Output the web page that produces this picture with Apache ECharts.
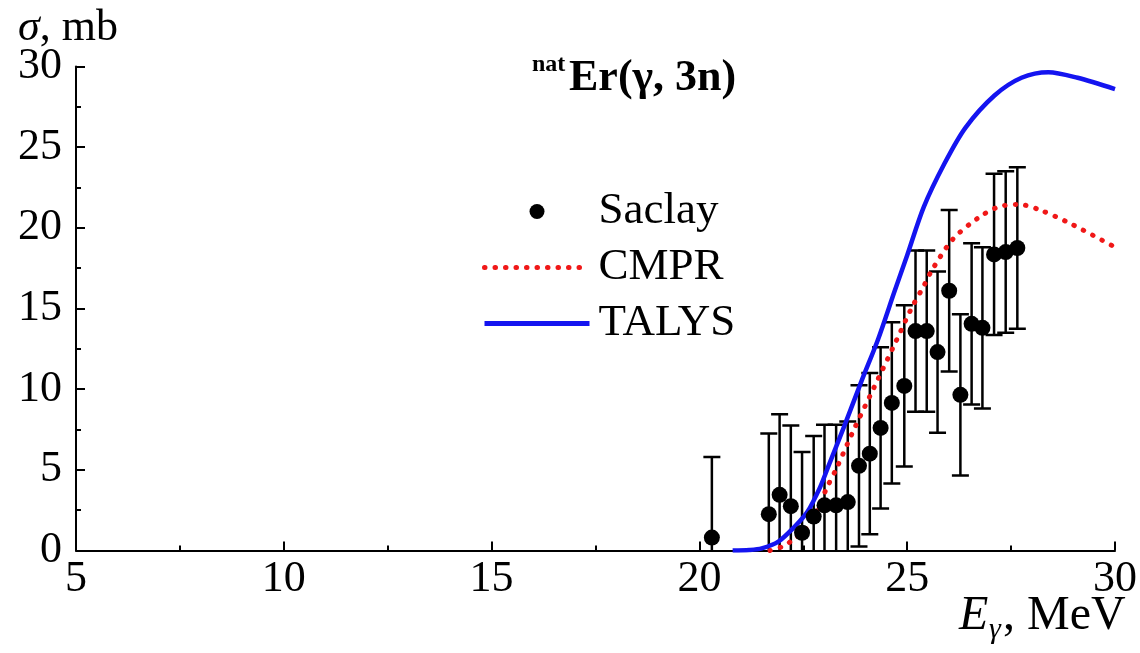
<!DOCTYPE html>
<html><head><meta charset="utf-8">
<script src="https://cdn.jsdelivr.net/npm/echarts@6/dist/echarts.min.js"></script>
<style>html,body{margin:0;padding:0;background:#fff}#c{width:1140px;height:653px}</style>
</head><body><div id="c"></div>
<script>
// Saclay experimental points: energy (MeV), cross section (mb), error (mb)
const saclayE =     [20.3, 21.67, 21.93, 22.2, 22.47, 22.75, 23.01, 23.29, 23.57, 23.84, 24.1, 24.36, 24.63, 24.93, 25.2, 25.47, 25.73, 26.01, 26.28, 26.55, 26.81, 27.09, 27.37, 27.65];
const saclaySigma = [0.8,  2.25,  3.45,  2.75, 1.1,   2.1,   2.8,   2.8,   3.0,   5.25,  6.0,  7.6,   9.15,  10.2,  13.6, 13.6,  12.3,  16.1,  9.65,  14.05, 13.8,  18.35, 18.5,  18.75];
const saclayErr =   [5, 5, 5, 5, 5, 5, 5, 5, 5, 5, 5, 5, 5, 5, 5, 5, 5, 5, 5, 5, 5, 5, 5, 5];
// CMPR curve
const cmprE =     [21.7, 22.0, 22.3, 22.6, 22.85, 23.05, 23.3, 23.7, 24.2, 24.7, 25.1, 25.4, 25.6, 26.1, 26.7, 27.2, 27.7, 28.2, 28.9, 30.0];
const cmprSigma = [0,    0.25, 0.75, 1.45, 2.6,   3.8,   5.1,  7.4,  10.1, 12.8, 15.0, 16.4, 17.4, 19.3, 20.6, 21.3, 21.45, 21.1, 20.3, 18.8];
// TALYS curve
const talysE =     [20.8, 21.2, 21.5, 21.9, 22.3, 22.6, 22.9, 23.1, 23.5, 23.9, 24.3, 24.7, 25.0, 25.4, 25.9, 26.4, 27.1, 27.75, 28.4, 29.1, 30.0];
const talysSigma = [0,    0.03, 0.13, 0.55, 1.5,  2.4,  3.9,  5.2,  7.8,  10.5, 13.1, 16.1, 18.3, 21.3, 24.0, 26.2, 28.2, 29.3, 29.65, 29.3, 28.6];

const FONT = '"Liberation Serif", "Times New Roman", serif';
const RED = '#f01818', BLUE = '#1414f0';
const chart = echarts.init(document.getElementById('c'), null, {renderer: 'canvas'});

const axisCommon = {
  type: 'value',
  axisLine: {show: true, lineStyle: {color: '#000', width: 2}},
  axisTick: {show: true, inside: true, length: 9, lineStyle: {color: '#000', width: 2}},
  minorTick: {show: true, splitNumber: 2, length: 5, lineStyle: {color: '#000', width: 2}},
  splitLine: {show: false},
  axisLabel: {fontSize: 44, fontFamily: FONT, color: '#000'}
};

chart.setOption({
  animation: false,
  backgroundColor: '#fff',
  grid: {left: 76, right: 23, top: 66.5, bottom: 102.5},
  xAxis: Object.assign({}, axisCommon, {min: 5, max: 30, interval: 5,
    axisLabel: Object.assign({}, axisCommon.axisLabel, {margin: 7})}),
  yAxis: Object.assign({}, axisCommon, {min: 0, max: 30, interval: 5,
    axisLabel: Object.assign({}, axisCommon.axisLabel, {margin: 14})}),
  legend: {
    data: [
      {name: 'Saclay', itemStyle: {color: '#000', opacity: 1}},
      {name: 'CMPR', itemStyle: {opacity: 0}, lineStyle: {color: RED, width: 5, type: [0.5, 10], cap: 'round'}},
      {name: 'TALYS', itemStyle: {opacity: 0}, lineStyle: {color: BLUE, width: 5}}
    ],
    orient: 'vertical', left: 482, top: 189, padding: 0,
    itemWidth: 105, itemHeight: 15, itemGap: 11,
    textStyle: {fontSize: 45, fontFamily: FONT, color: '#000', padding: [0, 0, 0, 4]}
  },
  graphic: [
    {type: 'text', left: 18, top: 6, style: {text: '{i|σ}, mb', font: '44px ' + FONT, fill: '#000',
      rich: {i: {fontStyle: 'italic', fontSize: 44, fontFamily: FONT}}}},
    {type: 'text', left: 532, top: 53, style: {text: 'nat', font: 'bold 24px ' + FONT, fill: '#000'}},
    {type: 'text', left: 569, top: 57, style: {text: 'Er(γ, 3n)', font: 'bold 44px ' + FONT, fill: '#000'}},
    {type: 'text', left: 959, top: 592, style: {text: 'E', font: 'italic 48px ' + FONT, fill: '#000'}},
    {type: 'text', left: 989, top: 615, style: {text: 'γ', font: 'italic 30px ' + FONT, fill: '#000'}},
    {type: 'text', left: 1003, top: 592, style: {text: ', MeV', font: '48px ' + FONT, fill: '#000'}}
  ],
  series: [
    {
      type: 'custom', name: 'errors', clip: true, z: 1,
      renderItem: function (params, api) {
        const x = api.value(0), lo = api.value(1), hi = api.value(2);
        const p1 = api.coord([x, lo]), p2 = api.coord([x, hi]);
        const hw = 8.5;
        const st = {stroke: '#000', lineWidth: 2.5};
        return {type: 'group', children: [
          {type: 'line', shape: {x1: p1[0], y1: p1[1], x2: p2[0], y2: p2[1]}, style: st},
          {type: 'line', shape: {x1: p2[0] - hw, y1: p2[1], x2: p2[0] + hw, y2: p2[1]}, style: st},
          {type: 'line', shape: {x1: p1[0] - hw, y1: p1[1], x2: p1[0] + hw, y2: p1[1]}, style: st}
        ]};
      },
      data: saclayE.map((e, i) => [e, saclaySigma[i] - saclayErr[i], saclaySigma[i] + saclayErr[i]])
    },
    {
      type: 'line', name: 'CMPR', z: 2, symbol: 'none', smooth: 0.3,
      lineStyle: {color: RED, width: 5, type: [0.5, 10], cap: 'round'},
      itemStyle: {color: RED},
      data: cmprE.map((e, i) => [e, cmprSigma[i]])
    },
    {
      type: 'line', name: 'TALYS', z: 2, symbol: 'none', smooth: 0.3,
      lineStyle: {color: BLUE, width: 4.5},
      itemStyle: {color: BLUE},
      data: talysE.map((e, i) => [e, talysSigma[i]])
    },
    {
      type: 'scatter', name: 'Saclay', z: 3, symbol: 'circle', symbolSize: 16,
      itemStyle: {color: '#000', opacity: 1},
      data: saclayE.map((e, i) => [e, saclaySigma[i]])
    }
  ]
});
</script>
</body></html>
